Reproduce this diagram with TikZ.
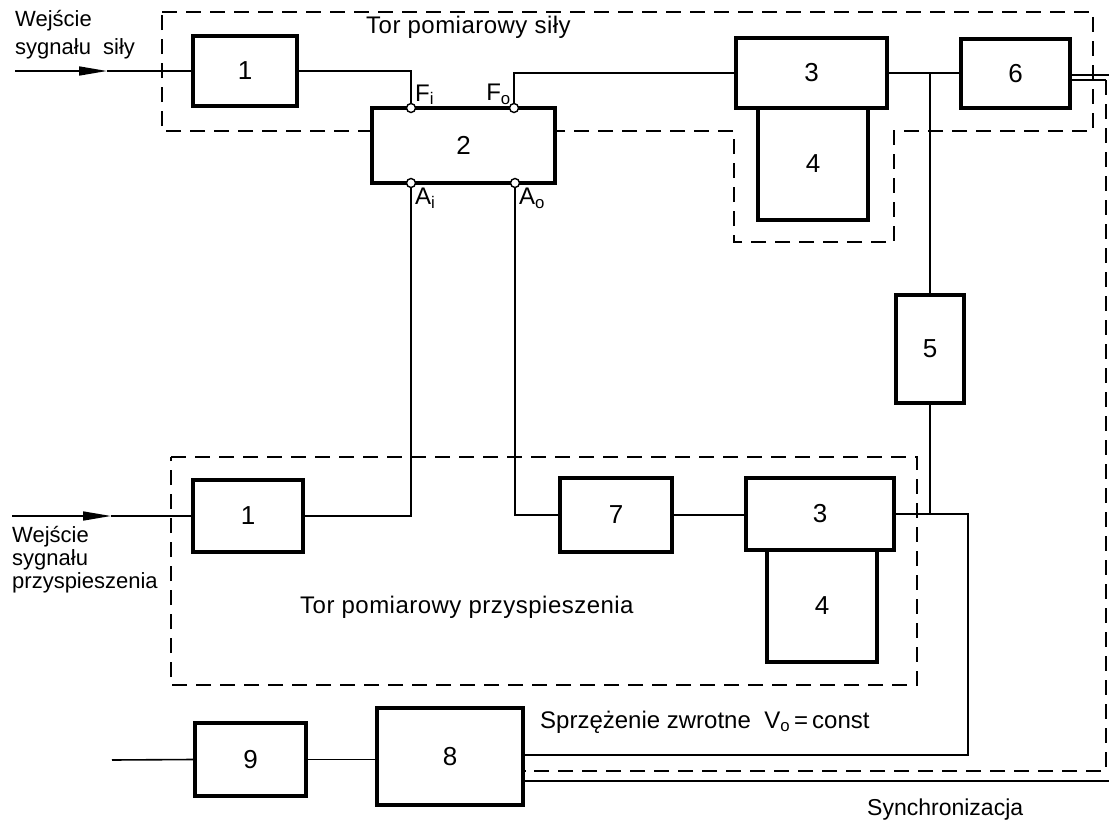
\documentclass[tikz,border=0pt]{standalone}
\usepackage{fontspec}
\setmainfont{Liberation Sans}
\usetikzlibrary{arrows.meta}
\begin{document}
\begin{tikzpicture}[x=1pt,y=-1pt,
  blk/.style={draw,line width=3.4pt,inner sep=0pt,fill=white,font=\fontsize{26}{30}\selectfont},
  wire/.style={line width=1.6pt},
  bnd/.style={line width=1.9pt,dash pattern=on 15pt off 9pt},
  lbl/.style={inner sep=0pt,font=\fontsize{24}{28}\selectfont\addfontfeatures{LetterSpace=2}},
  port/.style={circle,draw,fill=white,line width=1.4pt,inner sep=0pt,minimum size=9pt},
  arr/.style={wire,-{Triangle[length=28pt,width=9pt]}}]
\useasboundingbox (0,0) rectangle (1109,827);

% dashed boundaries
\draw[bnd] (162,12) -- (1093,12) -- (1093,131) -- (894,131) -- (894,242) -- (734,242) -- (734,131) -- (162,131) -- cycle;
\draw[bnd] (171,457) -- (917,457) -- (917,685) -- (171,685) -- cycle;

% coordinates
\coordinate (Fi) at (411,108);
\coordinate (Fo) at (514,108);
\coordinate (Ai) at (411,183);
\coordinate (Ao) at (515,183);
\coordinate (inF) at (15,71);
\coordinate (tipF) at (107,71);
\coordinate (inA) at (12,516);
\coordinate (tipA) at (111,516);
\coordinate (in9) at (112,760);
\coordinate (o6a) at (1109,75);
\coordinate (c6) at (1106,80);
\coordinate (c6b) at (1106,771);
\coordinate (o8) at (1109,781);
\coordinate (fbx) at (968,755);

% blocks
\node[blk,minimum width=104pt,minimum height=70pt] (b1t) at (245,71) {1};
\node[blk,minimum width=183pt,minimum height=75pt] (b2) at (463.5,145.5) {2};
\node[blk,minimum width=110pt,minimum height=112pt] (b4t) at (813,164) {4};
\node[blk,minimum width=151pt,minimum height=70pt] (b3t) at (811.5,73) {3};
\node[blk,minimum width=109pt,minimum height=69pt] (b6) at (1015.5,73.5) {6};
\node[blk,minimum width=68pt,minimum height=108pt] (b5) at (930,349) {5};
\node[blk,minimum width=110pt,minimum height=72pt] (b1b) at (248,516) {1};
\node[blk,minimum width=112pt,minimum height=74pt] (b7) at (616,515) {7};
\node[blk,minimum width=110pt,minimum height=112pt] (b4b) at (822,606) {4};
\node[blk,minimum width=148pt,minimum height=72pt] (b3b) at (820,514) {3};
\node[blk,minimum width=111pt,minimum height=73pt] (b9) at (250.5,759.5) {9};
\node[blk,minimum width=146pt,minimum height=97pt] (b8) at (450,756.5) {8};

\coordinate (j1) at (b5.north |- b3t.east);
\coordinate (j2) at (b5.south |- b3b.east);

% connectors
\draw[arr] (inF) -- (tipF);
\draw[wire] (tipF) -- (b1t.west);
\draw[wire] (b1t.east) -- (b1t.east -| Fi) -- (Fi);
\draw[wire] (Fo) -- (Fo |- b3t.west) -- (b3t.west);
\draw[wire] (b3t.east) -- (b3t.east -| b6.west);
\draw[wire] (j1) -- (b5.north);
\draw[wire] (b5.south) -- (j2);
\draw[wire] (b6.east |- o6a) -- (o6a);
\draw[wire] (b6.east |- c6) -- (c6);
\draw[bnd] (c6) -- (c6b) -- (b8.east |- c6b);
\draw[wire] (b8.east |- o8) -- (o8);

\draw[arr] (inA) -- (tipA);
\draw[wire] (tipA) -- (b1b.west);
\draw[wire] (b1b.east) -- (b1b.east -| Ai) -- (Ai);
\draw[wire] (Ao) -- (Ao |- b7.west) -- (b7.west);
\draw[wire] (b7.east) -- (b7.east -| b3b.west);
\draw[wire] (b3b.east) -- (b3b.east -| fbx) -- (fbx) -- (b8.east |- fbx);
\draw[wire] (in9) -- (b9.west);
\draw[wire] (b9.east) -- (b9.east -| b8.west);

% ports
\node[port] (pFi) at (Fi) {};
\node[port] (pFo) at (Fo) {};
\node[port] (pAi) at (Ai) {};
\node[port] (pAo) at (Ao) {};

% labels
\node[lbl,anchor=north west,align=left,font=\fontsize{22}{28}\selectfont] (lWF) at (15,10) {Wejście\\sygnału\ \ siły};
\node[lbl,anchor=west] (lTF) at (366,27) {Tor pomiarowy siły};
\node[lbl,anchor=south west] (lFi) at (415,105) {F\textsubscript{i}};
\node[lbl,anchor=south east] (lFo) at (511,105) {F\textsubscript{o}};
\node[lbl,anchor=north west] (lAi) at (415,188) {A\textsubscript{i}};
\node[lbl,anchor=north west] (lAo) at (519,188) {A\textsubscript{o}};
\node[lbl,anchor=north west,align=left,font=\fontsize{22}{23}\selectfont] (lWA) at (12,526) {Wejście\\sygnału\\przyspieszenia};
\node[lbl,anchor=west] (lTA) at (300,607) {Tor pomiarowy przyspieszenia};
\node[lbl,anchor=west,font=\fontsize{24}{28}\selectfont] (lSZ) at (540,722) {Sprzężenie zwrotne\ \ V\textsubscript{o}\,=\,const};
\node[lbl,anchor=west,font=\fontsize{23}{28}\selectfont] (lSy) at (867,810) {Synchronizacja};
\end{tikzpicture}
\end{document}
